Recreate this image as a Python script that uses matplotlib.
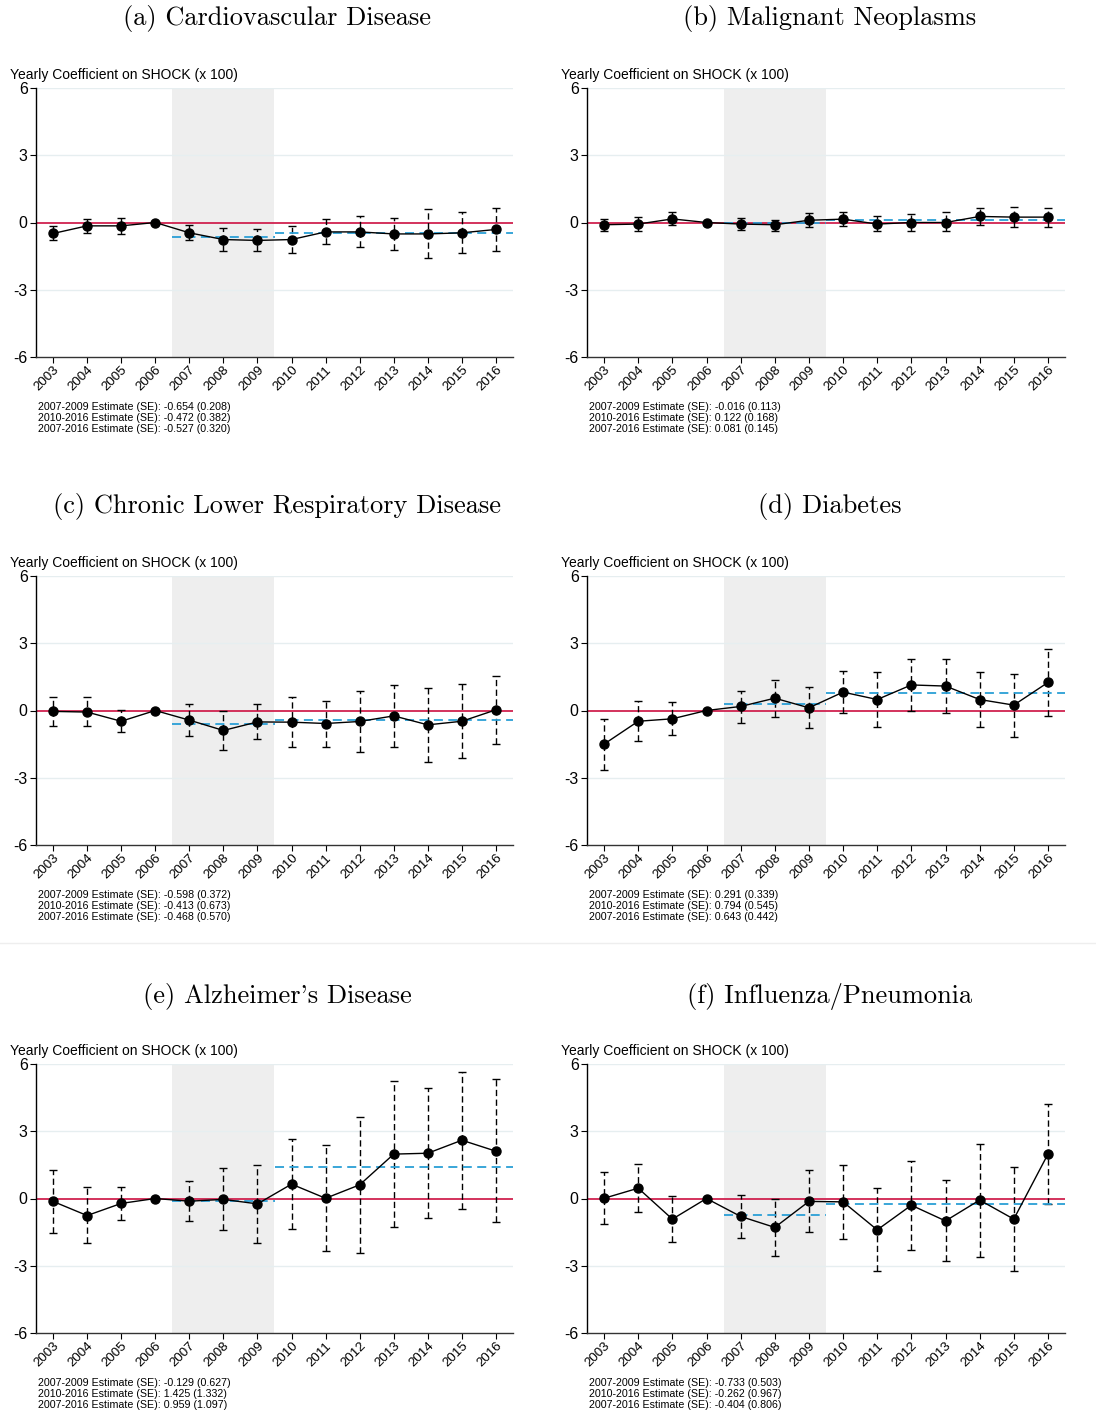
import numpy as np
import matplotlib
matplotlib.use('Agg')
import matplotlib.pyplot as plt

plt.rcParams['font.family'] = ['Liberation Sans', 'DejaVu Sans']
plt.rcParams['axes.unicode_minus'] = False

years = list(range(2003, 2017))

titles = ['(a) Cardiovascular Disease', '(b) Malignant Neoplasms',
          '(c) Chronic Lower Respiratory Disease', '(d) Diabetes',
          "(e) Alzheimer's Disease", '(f) Influenza/Pneumonia']

# point estimates (x 100)
coef_a = [-0.49, -0.15, -0.15, 0.0, -0.46, -0.76, -0.80, -0.76, -0.42, -0.42, -0.51, -0.51, -0.46, -0.31]
lo_a = [-0.79, -0.45, -0.52, 0.0, -0.79, -1.25, -1.27, -1.34, -0.98, -1.09, -1.24, -1.59, -1.37, -1.27]
hi_a = [-0.16, 0.15, 0.19, 0.0, -0.10, -0.24, -0.31, -0.15, 0.16, 0.27, 0.18, 0.58, 0.48, 0.66]

coef_b = [-0.10, -0.07, 0.16, 0.0, -0.07, -0.10, 0.10, 0.15, -0.07, 0.0, 0.0, 0.27, 0.24, 0.24]
lo_b = [-0.39, -0.37, -0.12, 0.0, -0.34, -0.36, -0.19, -0.15, -0.40, -0.36, -0.39, -0.12, -0.22, -0.21]
hi_b = [0.16, 0.24, 0.45, 0.0, 0.18, 0.12, 0.42, 0.46, 0.27, 0.37, 0.45, 0.66, 0.67, 0.63]

coef_c = [-0.04, -0.07, -0.48, 0.0, -0.43, -0.89, -0.51, -0.52, -0.58, -0.49, -0.24, -0.64, -0.48, 0.03]
lo_c = [-0.68, -0.71, -0.98, 0.0, -1.13, -1.75, -1.29, -1.65, -1.61, -1.84, -1.62, -2.28, -2.10, -1.49]
hi_c = [0.59, 0.58, 0.04, 0.0, 0.27, 0.0, 0.30, 0.61, 0.43, 0.88, 1.12, 1.01, 1.16, 1.55]

coef_d = [-1.50, -0.48, -0.37, 0.0, 0.18, 0.55, 0.12, 0.82, 0.49, 1.14, 1.09, 0.49, 0.24, 1.25]
lo_d = [-2.65, -1.38, -1.10, 0.0, -0.54, -0.27, -0.79, -0.10, -0.73, -0.01, -0.10, -0.73, -1.16, -0.24]
hi_d = [-0.36, 0.43, 0.36, 0.0, 0.89, 1.38, 1.03, 1.77, 1.72, 2.30, 2.28, 1.72, 1.64, 2.74]

coef_e = [-0.13, -0.76, -0.22, 0.0, -0.12, -0.04, -0.24, 0.64, 0.01, 0.61, 1.98, 2.02, 2.60, 2.11]
lo_e = [-1.56, -1.99, -0.98, 0.0, -1.02, -1.41, -2.00, -1.35, -2.33, -2.44, -1.28, -0.88, -0.46, -1.07]
hi_e = [1.29, 0.52, 0.52, 0.0, 0.80, 1.35, 1.50, 2.64, 2.39, 3.64, 5.23, 4.93, 5.63, 5.32]

coef_f = [0.01, 0.46, -0.92, 0.0, -0.80, -1.29, -0.13, -0.15, -1.40, -0.30, -1.00, -0.07, -0.92, 1.98]
lo_f = [-1.13, -0.62, -1.96, 0.0, -1.75, -2.55, -1.51, -1.81, -3.22, -2.30, -2.79, -2.60, -3.24, -0.24]
hi_f = [1.17, 1.56, 0.12, 0.0, 0.15, 0.0, 1.25, 1.51, 0.46, 1.68, 0.82, 2.44, 1.40, 4.20]

# pooled estimates: (2007-2009, 2010-2016, 2007-2016) with SE
est_0709 = [-0.654, -0.016, -0.598, 0.291, -0.129, -0.733]
se_0709 = [0.208, 0.113, 0.372, 0.339, 0.627, 0.503]
est_1016 = [-0.472, 0.122, -0.413, 0.794, 1.425, -0.262]
se_1016 = [0.382, 0.168, 0.673, 0.545, 1.332, 0.967]
est_0716 = [-0.527, 0.081, -0.468, 0.643, 0.959, -0.404]
se_0716 = [0.320, 0.145, 0.570, 0.442, 1.097, 0.806]

coefs = [coef_a, coef_b, coef_c, coef_d, coef_e, coef_f]
lows = [lo_a, lo_b, lo_c, lo_d, lo_e, lo_f]
highs = [hi_a, hi_b, hi_c, hi_d, hi_e, hi_f]

W, H = 1096, 1427
fig = plt.figure(figsize=(W / 100, H / 100), dpi=100)

col_left = [36, 587]
col_right = [513, 1065]
row_top = [88, 576, 1064]
ax_h = 269
title_x = [277, 830]
title_y = [18, 507, 996]

for i in range(6):
    r, c = divmod(i, 2)
    left = col_left[c] / W
    width = (col_right[c] - col_left[c]) / W
    bottom = 1 - (row_top[r] + ax_h) / H
    ax = fig.add_axes([left, bottom, width, ax_h / H])

    ax.axvspan(2006.5, 2009.5, color='#eeeeee', lw=0, zorder=0)
    for g in [6, 3, -3]:
        ax.axhline(g, color='#e6eef0', lw=1, zorder=0.5)
    ax.axhline(0, color='#d0224f', lw=1.3, zorder=1)

    eb = ax.errorbar(years, coefs[i],
                     yerr=[np.array(coefs[i]) - np.array(lows[i]),
                           np.array(highs[i]) - np.array(coefs[i])],
                     fmt='none', ecolor='black', elinewidth=1.0,
                     capsize=2.8, capthick=1.0, zorder=2)
    eb[2][0].set_linestyle((0, (4.5, 2.5)))

    ax.plot([2006.5, 2009.5], [est_0709[i]] * 2, color='#2a9fd6',
            lw=1.3, ls=(0, (5, 3)), zorder=3)
    ax.plot([2009.5, 2016.5], [est_1016[i]] * 2, color='#2a9fd6',
            lw=1.3, ls=(0, (5, 3)), zorder=3)

    ax.plot(years, coefs[i], color='black', lw=1.0, marker='o',
            markersize=6.5, zorder=4)

    ax.set_xlim(2002.5, 2016.5)
    ax.set_ylim(-6, 6)
    ax.set_yticks([-6, -3, 0, 3, 6])
    ax.set_yticklabels(['-6', '-3', '0', '3', '6'], fontsize=11.5)
    ax.set_xticks(years)
    ax.set_xticklabels([str(y) for y in years], rotation=45, ha='right',
                       rotation_mode='anchor', fontsize=9.6)
    ax.tick_params(axis='both', direction='out', length=4, width=0.8, pad=2)
    ax.tick_params(axis='x', pad=1)
    for s in ['top', 'right']:
        ax.spines[s].set_visible(False)
    ax.spines['left'].set_linewidth(1.0)
    ax.spines['bottom'].set_color('#333333')
    ax.spines['bottom'].set_linewidth(1.0)

    y_top = 1 - row_top[r] / H
    fig.text((col_left[c] - 26) / W, y_top + 6 / H,
             'Yearly Coefficient on SHOCK (x 100)', fontsize=10,
             ha='left', va='bottom')

    notes = (f'2007-2009 Estimate (SE): {est_0709[i]:.3f} ({se_0709[i]:.3f})\n'
             f'2010-2016 Estimate (SE): {est_1016[i]:.3f} ({se_1016[i]:.3f})\n'
             f'2007-2016 Estimate (SE): {est_0716[i]:.3f} ({se_0716[i]:.3f})')
    fig.text((col_left[c] + 2) / W, 1 - (row_top[r] + ax_h + 45) / H, notes,
             fontsize=7.7, ha='left', va='top', linespacing=1.1)

    fig.text(title_x[c] / W, 1 - title_y[r] / H, titles[i],
             family='cmr10', fontsize=19, ha='center', va='center')

# faint separator between second and third rows
fig.add_artist(plt.Line2D([0, 1], [1 - 943 / H] * 2, color='#eeeeee', lw=1))

fig.savefig('out.png', dpi=100)
